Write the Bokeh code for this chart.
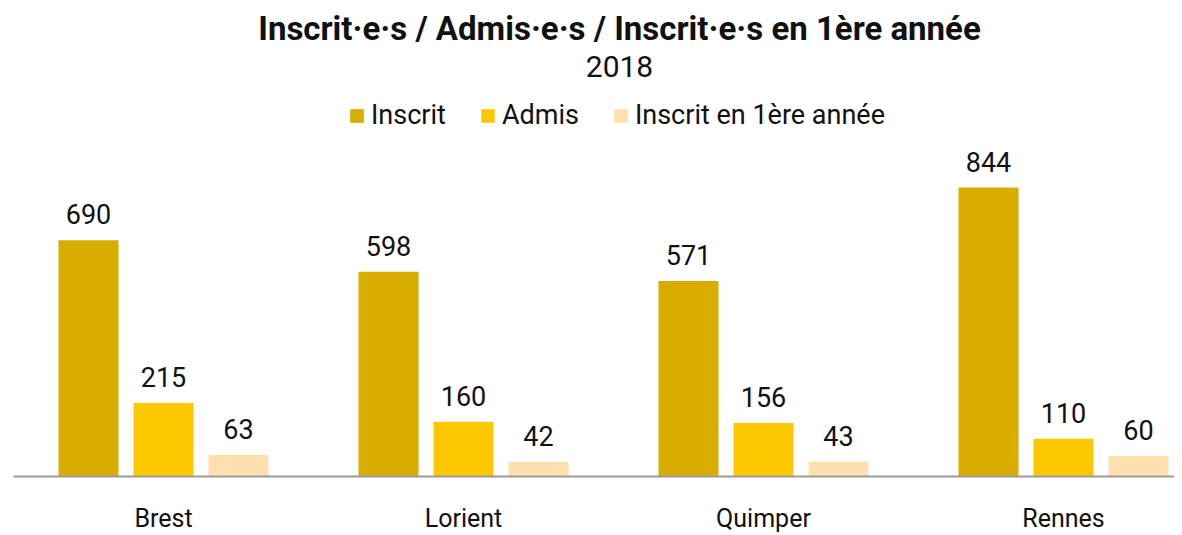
from bokeh.plotting import figure
from bokeh.models import (Range1d, FixedTicker, Legend, LegendItem, Label,
                          ColumnDataSource)
from bokeh.core.properties import value
from bokeh.embed import file_html
from bokeh.resources import INLINE

categories = ["Brest", "Lorient", "Quimper", "Rennes"]
inscrit = [690, 598, 571, 844]
admis = [215, 160, 156, 110]
premiere = [63, 42, 43, 60]
series_names = ["Inscrit", "Admis", "Inscrit en 1ère année"]
series_values = [inscrit, admis, premiere]
colors = ["#D9AC00", "#FEC800", "#FFDFAE"]
offsets = [-0.25, 0.0, 0.25]

title_text = "Inscrit·e·s / Admis·e·s / Inscrit·e·s en 1ère année"
subtitle_text = "2018"

FONT = "Roboto"
px_per_unit = 289 / 844.0
frame_h = 469
frame_w = 1161
y_end = frame_h / px_per_unit

p = figure(frame_width=frame_w, frame_height=frame_h,
           x_range=Range1d(0, frame_w / 300.0), y_range=Range1d(0, y_end),
           output_backend="svg", toolbar_location=None,
           min_border_left=13, min_border_right=0, min_border_top=7,
           min_border_bottom=0)
p.outline_line_color = None
p.xgrid.visible = False
p.ygrid.visible = False
p.yaxis.visible = False
p.background_fill_color = "white"
p.border_fill_color = "white"

centers = [i + 0.5 for i in range(len(categories))]
items = []
for name, vals, col, off in zip(series_names, series_values, colors, offsets):
    src = ColumnDataSource(dict(x=[c + off for c in centers], top=vals,
                                lab=[str(v) for v in vals]))
    r = p.vbar(x="x", top="top", width=0.2, source=src, fill_color=col,
               line_color=None)
    p.text(x="x", y="top", text="lab", source=src, text_align="center",
           text_baseline="middle", y_offset=-26, text_font=value(FONT),
           text_font_size="27px", text_color="#111111")
    items.append(LegendItem(label=name, renderers=[r]))

ax = p.xaxis[0]
ax.ticker = FixedTicker(ticks=centers)
ax.major_label_overrides = {c: n for c, n in zip(centers, categories)}
ax.major_tick_line_color = None
ax.minor_tick_line_color = None
ax.major_tick_out = 0
ax.major_tick_in = 0
ax.axis_line_color = "#9A9A9A"
ax.axis_line_width = 2
ax.major_label_standoff = 27
ax.major_label_text_font = FONT
ax.major_label_text_font_size = "25px"
ax.major_label_text_color = "#111111"

legend = Legend(items=items, orientation="horizontal", location=(335, 345),
                glyph_width=17, glyph_height=17, label_standoff=6,
                spacing=33, padding=0, margin=0,
                label_text_font=FONT, label_text_font_size="27px",
                label_text_color="#111111", border_line_color=None,
                background_fill_alpha=0)
p.add_layout(legend)

to_y = lambda page_y: (476 - page_y) / px_per_unit
p.add_layout(Label(x=606 / 300.0, y=to_y(28), text=title_text,
                   text_align="center", text_baseline="middle",
                   text_font=FONT, text_font_size="33px",
                   text_font_style="bold", text_color="#111111"))
p.add_layout(Label(x=606 / 300.0, y=to_y(66), text=subtitle_text,
                   text_align="center", text_baseline="middle",
                   text_font=FONT, text_font_size="30px",
                   text_color="#111111"))

open("out.html", "w").write(file_html(p, INLINE))
